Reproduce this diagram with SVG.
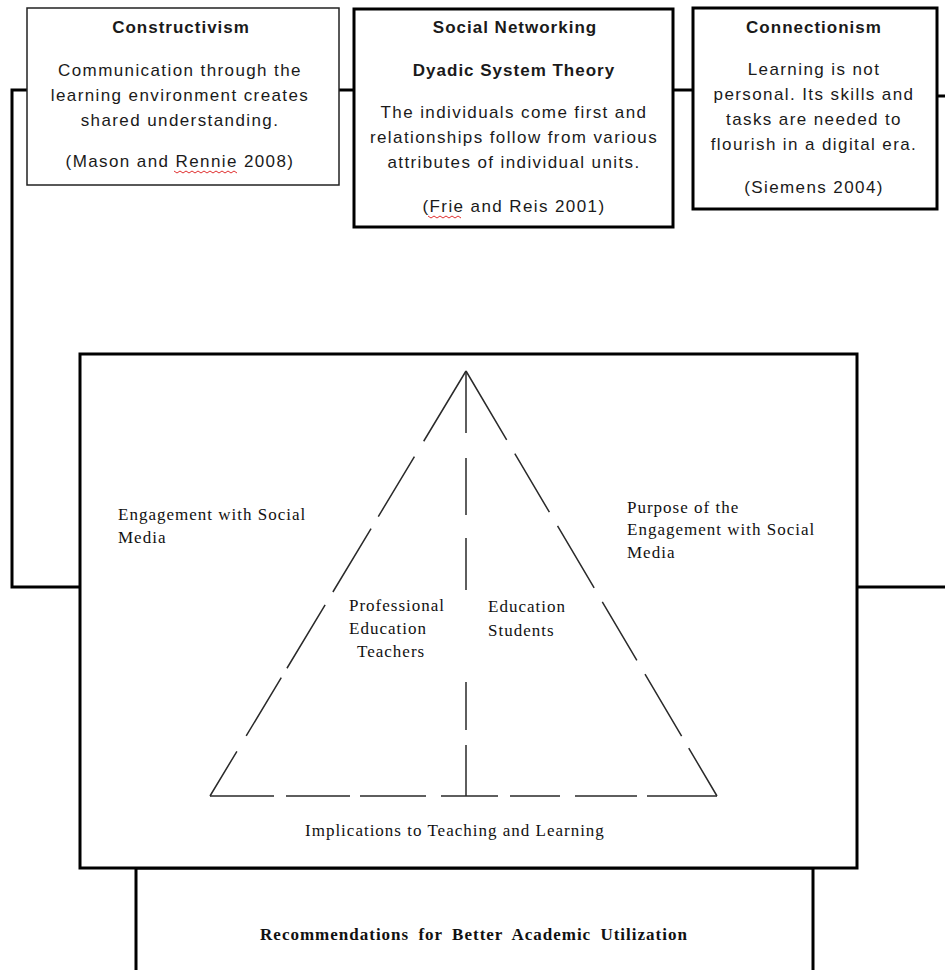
<svg xmlns="http://www.w3.org/2000/svg" width="945" height="970" viewBox="0 0 945 970">
<style>
.bg{fill:#fff}
.box{fill:#fff;stroke:#000;stroke-width:3}
.thin{fill:#fff;stroke:#222;stroke-width:1.5}
.conn{fill:none;stroke:#000;stroke-width:3}
.tri{fill:none;stroke:#2a2a2a;stroke-width:1.5}
.st{font-family:"Liberation Sans",Arial,sans-serif;font-size:17px;fill:#1a1a1a;text-anchor:middle;letter-spacing:1.4px}
.sb{font-family:"Liberation Sans",Arial,sans-serif;font-size:17px;font-weight:bold;fill:#1a1a1a;text-anchor:middle;letter-spacing:1px}
.ser{font-family:"Liberation Serif","Times New Roman",serif;font-size:17px;fill:#111;letter-spacing:1px}
.serb{font-family:"Liberation Serif","Times New Roman",serif;font-size:17px;font-weight:bold;fill:#111;letter-spacing:1px;word-spacing:4px}
.sq{fill:none;stroke:#e03030;stroke-width:1}
</style>
<rect class="bg" x="0" y="0" width="945" height="970"/>
<g id="connectors">
<polyline class="conn" points="27,90 12,90 12,587 80,587"/>
<line class="conn" x1="339" y1="90" x2="354" y2="90"/>
<line class="conn" x1="673" y1="90" x2="693" y2="90"/>
<line class="conn" x1="937" y1="96" x2="945" y2="96"/>
<line class="conn" x1="857" y1="587" x2="945" y2="587"/>
</g>
<g id="constructivism">
<rect class="thin" x="27" y="8" width="312" height="177"/>
<text class="sb" x="181" y="33">Constructivism</text>
<text class="st" x="180" y="76">Communication through the</text>
<text class="st" x="180" y="101">learning environment creates</text>
<text class="st" x="180" y="126">shared understanding.</text>
<text class="st" x="180" y="167">(Mason and Rennie 2008)</text>
<path class="sq" d="M174,171 l3,2 l3,-2 l3,2 l3,-2 l3,2 l3,-2 l3,2 l3,-2 l3,2 l3,-2 l3,2 l3,-2 l3,2 l3,-2 l3,2 l3,-2 l3,2 l3,-2 l3,2 l3,-2 l3,2"/>
</g>
<g id="social-networking">
<rect class="box" x="354" y="9" width="319" height="218"/>
<text class="sb" x="515" y="33">Social Networking</text>
<text class="sb" x="514" y="76">Dyadic  System Theory</text>
<text class="st" x="514" y="118">The individuals come first and</text>
<text class="st" x="514" y="143">relationships follow from various</text>
<text class="st" x="514" y="168">attributes of individual units.</text>
<text class="st" x="514" y="212">(Frie and Reis 2001)</text>
<path class="sq" d="M428,216 l3,2 l3,-2 l3,2 l3,-2 l3,2 l3,-2 l3,2 l3,-2 l3,2 l3,-2 l3,2"/>
</g>
<g id="connectionism">
<rect class="box" x="693" y="8" width="244" height="201"/>
<text class="sb" x="814" y="33">Connectionism</text>
<text class="st" x="814" y="75">Learning is not</text>
<text class="st" x="814" y="100">personal. Its skills and</text>
<text class="st" x="814" y="125">tasks are needed to</text>
<text class="st" x="814" y="150">flourish in a digital era.</text>
<text class="st" x="814" y="193">(Siemens 2004)</text>
</g>
<g id="recommendations">
<rect class="box" x="136" y="868" width="677" height="120"/>
<text class="serb" x="474" y="940" text-anchor="middle">Recommendations  for Better  Academic  Utilization</text>
</g>
<g id="main-framework">
<rect class="box" x="80" y="354" width="777" height="514"/>
<line class="tri" x1="466" y1="371" x2="210" y2="796" stroke-dasharray="82 18 70 14 74 15 74 11 68 18 60"/>
<line class="tri" x1="466" y1="371" x2="717" y2="796" stroke-dasharray="80 16 68 16 72 16 68 16 72 14 70"/>
<line class="tri" x1="466" y1="371" x2="466" y2="796" stroke-dasharray="62 25 57 23 52 92 48 15 55"/>
<line class="tri" x1="210" y1="796" x2="717" y2="796" stroke-dasharray="64 12 64 10 66 15 57 12 50 15 62 10 70"/>
<text class="ser" x="118" y="520">Engagement  with Social</text>
<text class="ser" x="118" y="543">Media</text>
<text class="ser" x="627" y="513">Purpose  of  the</text>
<text class="ser" x="627" y="535">Engagement  with Social</text>
<text class="ser" x="627" y="558">Media</text>
<text class="ser" x="349" y="611">Professional</text>
<text class="ser" x="349" y="634">Education</text>
<text class="ser" x="357" y="657">Teachers</text>
<text class="ser" x="488" y="612">Education</text>
<text class="ser" x="488" y="636">Students</text>
<text class="ser" x="305" y="836">Implications  to Teaching  and Learning</text>
</g>
</svg>
